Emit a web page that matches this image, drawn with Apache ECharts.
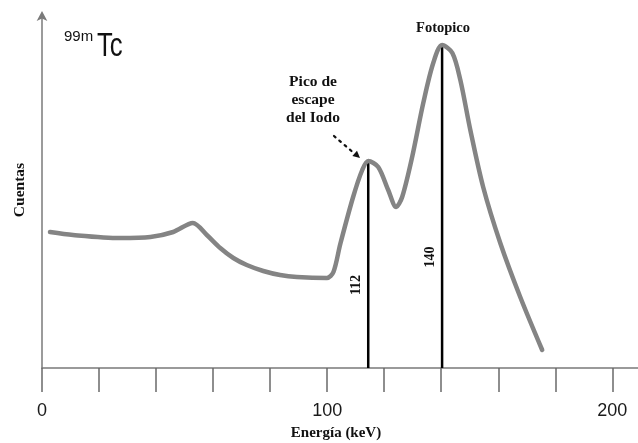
<!DOCTYPE html>
<html>
<head>
<meta charset="utf-8">
<script src="https://cdn.jsdelivr.net/npm/echarts@6/dist/echarts.min.js"></script>
<style>html,body{margin:0;padding:0;background:#fff}#c{width:638px;height:443px}</style>
</head>
<body>
<div id="c"></div>
<script>
// Energy (keV) and counts (arbitrary units)
const energy = [2.8, 10.9, 27.4, 38, 46, 52.9, 57.8, 62.5, 67.1, 71.8, 77.6, 83.5, 89.4, 99.9, 102.2, 104.6, 109.1, 112.3, 114.4, 117.9, 121.4, 124.2, 126.3, 129.8, 133.7, 137.2, 140.3, 143.9, 146.7, 150.2, 154.7, 160.7, 167.7, 175.4];
const counts = [136, 133, 130, 131, 136, 145, 133, 120, 110, 103, 97, 93, 91, 90, 96, 124, 171, 198, 207, 201, 178, 161, 171, 211, 265, 305, 323, 315, 288, 238, 181, 125, 71, 18];
// Peak marker lines: position and height, with their labels
const peakLabels = ['112', '140'];
const peakEnergy = [114.4, 140.3];
const peakHeight = [205, 322];
const tickValues = [0, 20, 40, 60, 80, 100, 120, 140, 160, 180, 200];
const tickLabels = [0, 100, 200];

const chart = echarts.init(document.getElementById('c'));
const serifBold = {fontFamily: 'Liberation Serif', fontWeight: 'bold', fill: '#111'};

const peakSeries = peakEnergy.map((x, i) => ({
  type: 'line', data: [[x, 0], [x, peakHeight[i]]], symbol: 'none', silent: true,
  lineStyle: {color: '#000', width: 2.5}, z: 1
}));

chart.setOption({
  animation: false,
  grid: {left: 42, right: 0, top: 14, bottom: 75},
  xAxis: {
    type: 'value', min: 0, max: 209,
    axisLine: {lineStyle: {color: '#7a7a7a', width: 1.5}},
    axisTick: {show: true, length: 24, customValues: tickValues, lineStyle: {color: '#6a6a6a', width: 1.5}},
    axisLabel: {customValues: tickLabels, fontFamily: 'Liberation Sans', fontSize: 18, color: '#1a1a1a', margin: 34},
    splitLine: {show: false}
  },
  yAxis: {
    type: 'value', min: 0, max: 354,
    axisLine: {show: true, symbol: ['none', 'arrow'], symbolSize: [8, 10], symbolOffset: [0, 3], lineStyle: {color: '#7a7a7a', width: 1.5}},
    axisTick: {show: false}, axisLabel: {show: false}, splitLine: {show: false}
  },
  series: [
    ...peakSeries,
    {
      type: 'line', data: energy.map((e, i) => [e, counts[i]]), symbol: 'none', smooth: 0.3,
      lineStyle: {color: '#848484', width: 4.5, cap: 'round', join: 'round'}, z: 2
    }
  ],
  graphic: [
    {type: 'text', left: 64, top: 29, style: {text: '99m', fontFamily: 'Liberation Sans', fontSize: 15, fill: '#111'}},
    {type: 'text', x: 97, y: 30, scaleX: 0.78, style: {text: 'Tc', fontFamily: 'Liberation Sans', fontSize: 33, fill: '#111'}},
    {type: 'text', x: 443, y: 28, style: Object.assign({text: 'Fotopico', fontSize: 14.5, align: 'center', verticalAlign: 'middle'}, serifBold)},
    {type: 'text', x: 313, y: 100, style: Object.assign({text: 'Pico de\nescape\ndel Iodo', fontSize: 15.5, lineHeight: 18, align: 'center', verticalAlign: 'middle'}, serifBold)},
    {type: 'polyline', shape: {points: [[334, 136], [355, 154]]}, style: {stroke: '#111', lineWidth: 2.2, lineDash: [2, 5], lineCap: 'round'}},
    {type: 'polygon', shape: {points: [[360, 158], [352.4, 156], [357, 150.8]]}, style: {fill: '#111'}},
    {type: 'text', x: 356, y: 285, rotation: Math.PI / 2, style: Object.assign({text: peakLabels[0], fontSize: 14, align: 'center', verticalAlign: 'middle'}, serifBold)},
    {type: 'text', x: 430, y: 257, rotation: Math.PI / 2, style: Object.assign({text: peakLabels[1], fontSize: 14, align: 'center', verticalAlign: 'middle'}, serifBold)},
    {type: 'text', x: 20, y: 190, rotation: Math.PI / 2, style: Object.assign({text: 'Cuentas', fontSize: 15.5, align: 'center', verticalAlign: 'middle'}, serifBold)},
    {type: 'text', x: 336, y: 433, style: Object.assign({text: 'Energía (keV)', fontSize: 15, align: 'center', verticalAlign: 'middle'}, serifBold)}
  ]
});
</script>
</body>
</html>
